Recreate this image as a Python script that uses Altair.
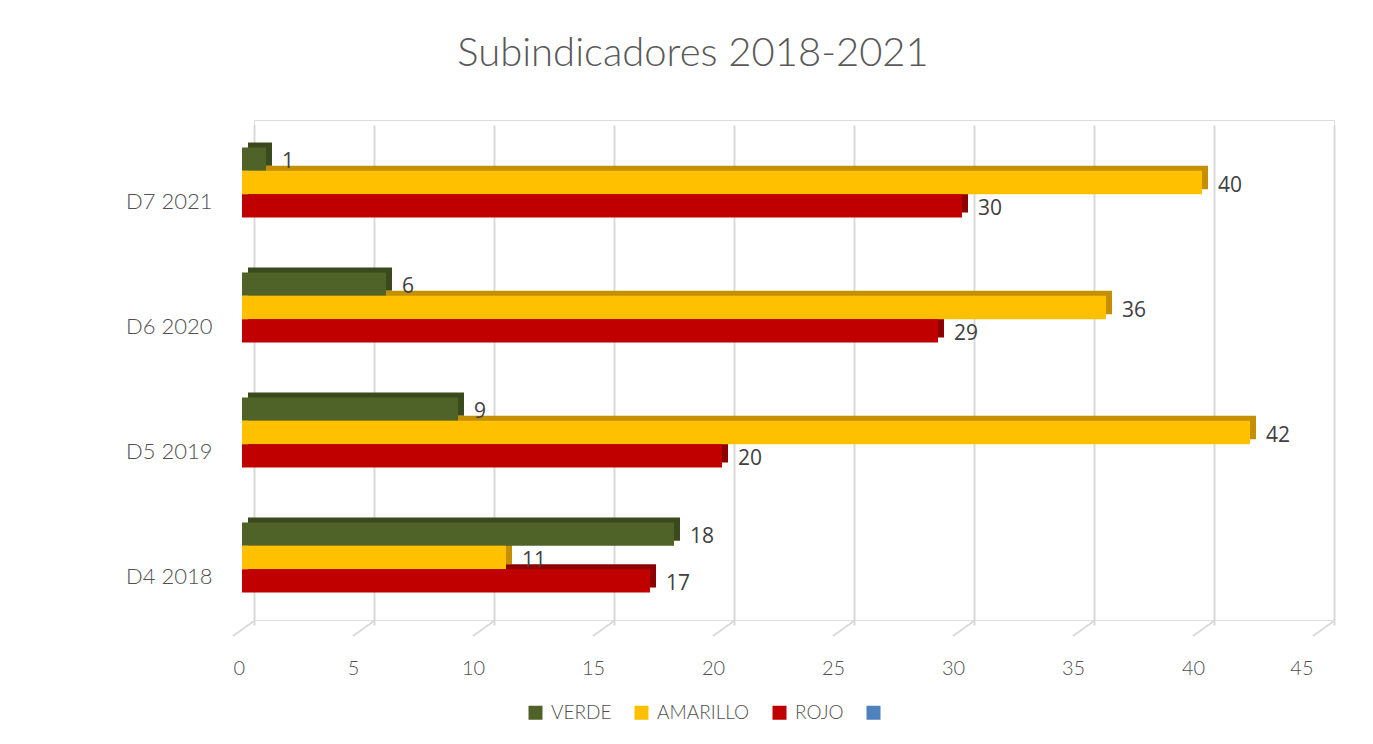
import altair as alt
import pandas as pd

categories = ["D7 2021", "D6 2020", "D5 2019", "D4 2018"]
series = ["VERDE", "AMARILLO", "ROJO"]
verde = [1, 6, 9, 18]
amarillo = [40, 36, 42, 11]
rojo = [30, 29, 20, 17]
ticks = [0, 5, 10, 15, 20, 25, 30, 35, 40, 45]

front_colors = ["#4F6228", "#FFC000", "#C00000"]
dark_colors = ["#3A4A1C", "#C49000", "#8E0000"]
legend_extra_color = "#4F81BD"

rows = []
for i, c in enumerate(categories):
    for s, vals, dk in zip(series, [verde, amarillo, rojo], dark_colors):
        rows.append({"cat": c, "serie": s, "val": vals[i], "dark": dk})
df = pd.DataFrame(rows)
tick_df = pd.DataFrame({"t": ticks})

x_scale = alt.Scale(domain=[0, 45], nice=False, zero=True)
y_scale = alt.Scale(domain=categories, paddingInner=0.44, paddingOuter=0.22)
y_enc = alt.Y("cat:N", sort=categories, scale=y_scale,
              axis=alt.Axis(title=None, labelFontSize=22, labelColor="#505050", labelFont="Lato",
                            labelFontWeight=300,
                            labelPadding=42, labelOffset=19, ticks=False, domain=False, grid=False))
y_back = alt.Y("cat:N", sort=categories,
               scale=alt.Scale(domain=categories, paddingInner=0.44, paddingOuter=0.22,
                               range=[-5, 495]),
               axis=None)
yoff = alt.YOffset("serie:N", sort=series, scale=alt.Scale(domain=series))

base = alt.Chart(df)

back = base.mark_bar(xOffset=-6, x2Offset=-6).encode(
    x=alt.X("val:Q", scale=x_scale,
            axis=alt.Axis(title=None, values=ticks, labelFontSize=20, labelColor="#505050",
                          labelFont="Lato", labelFontWeight=300, labelPadding=38, labelOffset=-21,
                          ticks=False, domain=False, grid=True, gridColor="#d9d9d9", gridWidth=2)),
    y=y_back,
    yOffset=yoff,
    color=alt.Color("dark:N", scale=None),
)

front = base.mark_bar(xOffset=-12, x2Offset=-12).encode(
    x=alt.X("val:Q", scale=x_scale),
    y=y_enc,
    yOffset=yoff,
    color=alt.Color("serie:N",
                    scale=alt.Scale(domain=series + [" "], range=front_colors + [legend_extra_color]),
                    legend=alt.Legend(title=None, orient="none", legendX=272, legendY=583,
                                      direction="horizontal", symbolType="square", symbolSize=196,
                                      symbolStrokeWidth=0, labelFontSize=19, labelColor="#505050",
                                      labelFont="Lato", labelFontWeight=300, labelOffset=6,
                                      columnPadding=20)),
)

labels = base.mark_text(align="left", baseline="middle", dx=4, dy=3, fontSize=21,
                        color="#404040", font="Open Sans").encode(
    x=alt.X("val:Q", scale=x_scale),
    y=alt.Y("cat:N", sort=categories, scale=y_scale, axis=None),
    yOffset=yoff,
    text="val:Q",
)

floor = alt.Chart(tick_df).mark_rule(color="#d9d9d9", strokeWidth=2, x2Offset=-21).encode(
    x=alt.X("t:Q", scale=x_scale),
    x2="t:Q",
    y=alt.value(501),
    y2=alt.value(516),
)

chart = alt.layer(floor, back, front, labels).resolve_scale(y="independent").properties(
    width=1080, height=500,
    title=alt.TitleParams("Subindicadores 2018-2021", fontSize=40, font="Lato", fontWeight=300,
                          color="#595959", anchor="middle", dx=-101, offset=46),
    padding={"left": 246, "top": 112, "right": 20, "bottom": 118},
    autosize=alt.AutoSizeParams(type="none"),
).configure_view(stroke=None).configure(background="white")

chart.save("out.html", embed_options={"renderer": "svg", "actions": False})
